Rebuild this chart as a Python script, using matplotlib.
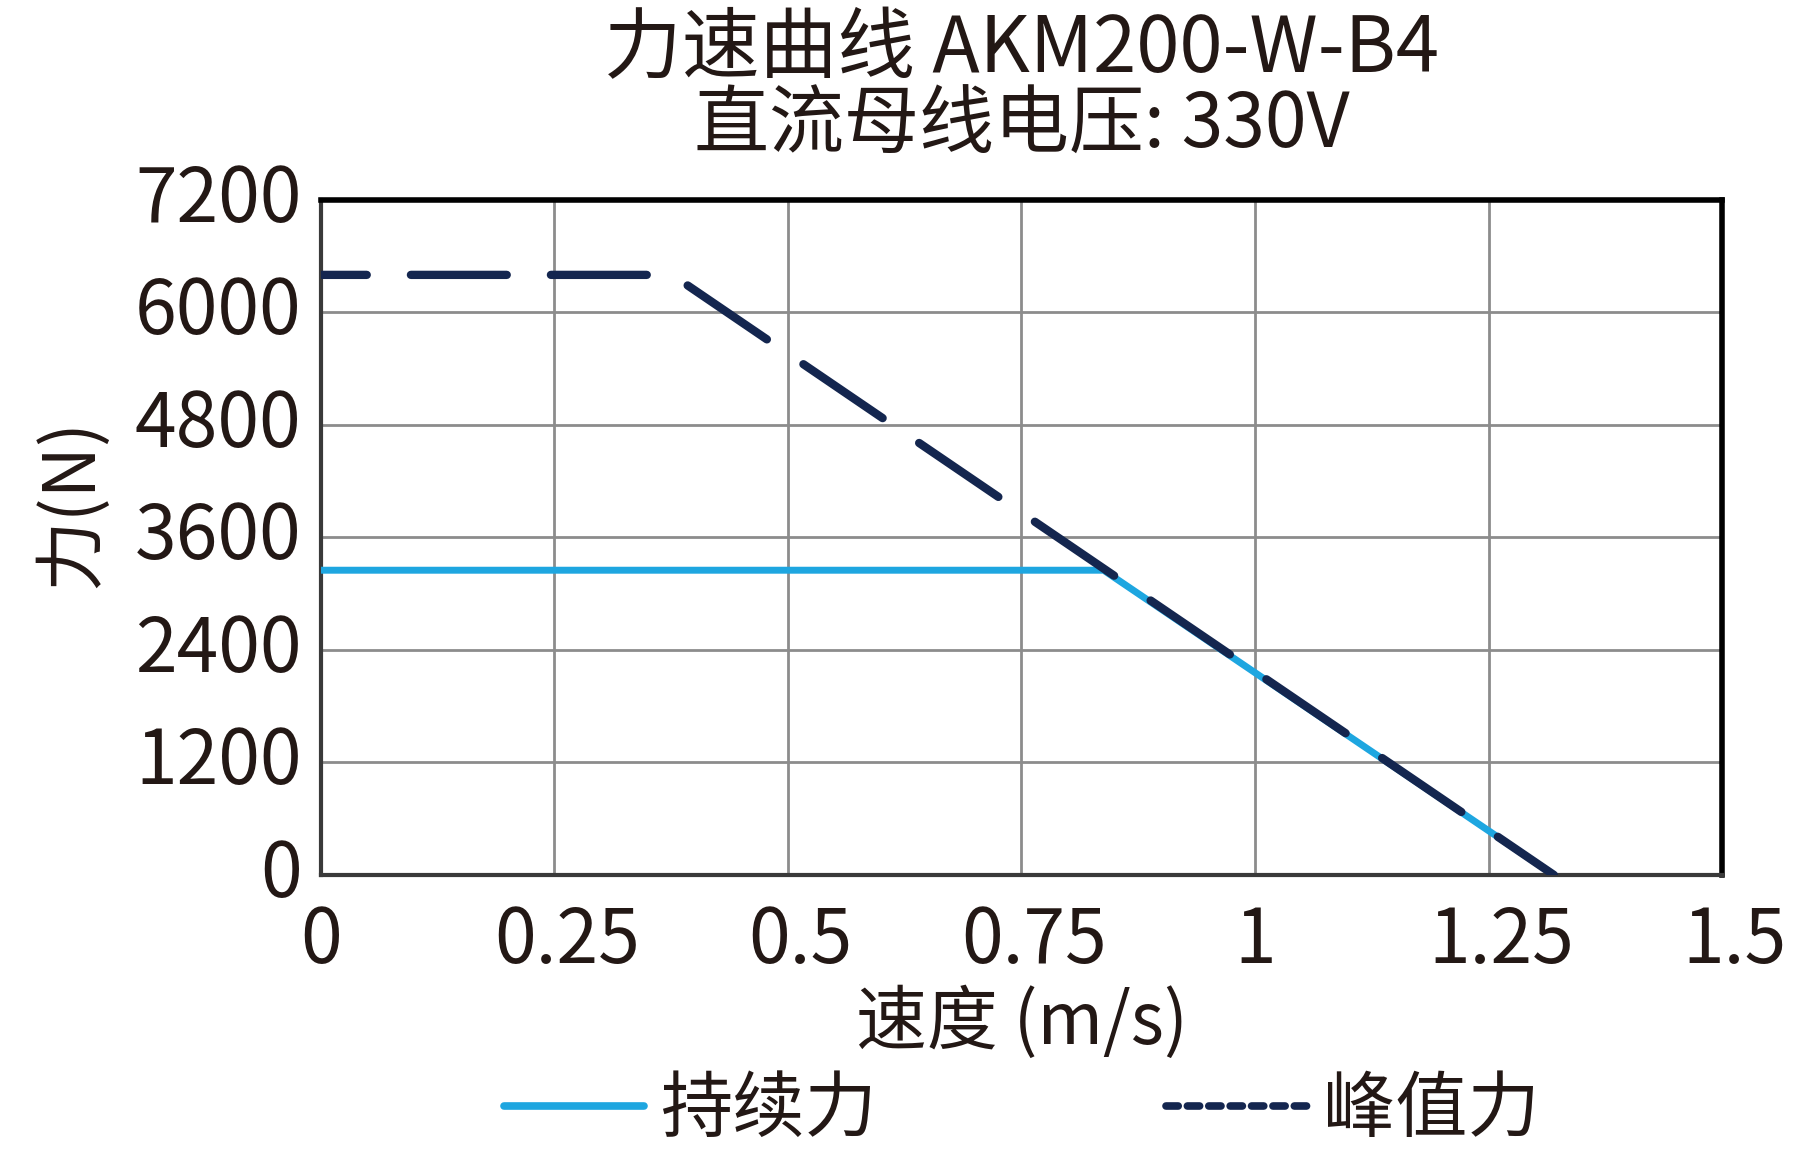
import matplotlib
matplotlib.use("Agg")
import matplotlib.pyplot as plt
import matplotlib.transforms as mtransforms
from matplotlib.lines import Line2D

plt.rcParams['font.family'] = ['Noto Sans CJK SC', 'DejaVu Sans']

# data
speed_cont = [0, 0.838, 1.32]
force_cont = [3250, 3250, 0]
speed_peak = [0, 0.376, 1.32]
force_peak = [6400, 6400, 0]

x_ticks = [0, 0.25, 0.5, 0.75, 1, 1.25, 1.5]
x_labels = ["0", "0.25", "0.5", "0.75", "1", "1.25", "1.5"]
y_ticks = [0, 1200, 2400, 3600, 4800, 6000, 7200]

blue = "#1ea6e0"
navy = "#14264f"
ink = "#231815"

fig = plt.figure(figsize=(18.1, 11.52), dpi=100)
ax = fig.add_axes([0.1773, 0.2405, 0.7741, 0.586])

ax.plot(speed_cont, force_cont, color=blue, lw=5, solid_capstyle="butt", zorder=3)
ax.plot(speed_peak, force_peak, color=navy, lw=6, linestyle=(6, (11.5, 5.3)),
        dash_capstyle="round", zorder=4)

ax.set_xlim(0, 1.5)
ax.set_ylim(0, 7200)
ax.set_xticks(x_ticks)
ax.set_xticklabels(x_labels)
ax.set_yticks(y_ticks)
ax.grid(True, color="#8c8c8c", lw=2)
ax.set_axisbelow(True)
ax.tick_params(length=0, labelsize=54, labelcolor=ink)
ax.tick_params(axis="x", pad=20)
ax.tick_params(axis="y", pad=14)

# y labels sit a little above their gridlines, decimal x labels a bit to the right
up = mtransforms.ScaledTranslation(0, 6 / 72, fig.dpi_scale_trans)
for lbl in ax.get_yticklabels():
    lbl.set_transform(lbl.get_transform() + up)
right = mtransforms.ScaledTranslation(9 / 72, 0, fig.dpi_scale_trans)
for lbl in ax.get_xticklabels():
    if "." in lbl.get_text():
        lbl.set_transform(lbl.get_transform() + right)

for side in ["top", "right"]:
    ax.spines[side].set_linewidth(4)
    ax.spines[side].set_color("black")
for side in ["left", "bottom"]:
    ax.spines[side].set_linewidth(3)
    ax.spines[side].set_color("#3a3a3a")

cx = 0.1773 + 0.7741 / 2
fig.text(cx, 0.956, "力速曲线 AKM200-W-B4", ha="center", va="center",
         fontsize=56, color=ink)
fig.text(cx, 0.89, "直流母线电压: 330V", ha="center", va="center",
         fontsize=54, color=ink)
fig.text(cx, 0.112, "速度 (m/s)", ha="center", va="center", fontsize=51, color=ink)
fig.text(0.0397, 0.563, "力(N)", ha="center", va="center", rotation=90,
         fontsize=51, color=ink)

handles = [
    Line2D([], [], color=blue, lw=5.5, solid_capstyle="round"),
    Line2D([], [], color=navy, lw=5.5, dashes=(1.6, 1.2), dash_capstyle="round"),
]
fig.legend(handles, ["持续力", "峰值力"], loc="center", bbox_to_anchor=(cx, 0.036),
           ncol=2, frameon=False, fontsize=52, handlelength=1.95,
           handletextpad=0.22, columnspacing=4.0, labelcolor=ink)

fig.savefig("out.png", dpi=100)
